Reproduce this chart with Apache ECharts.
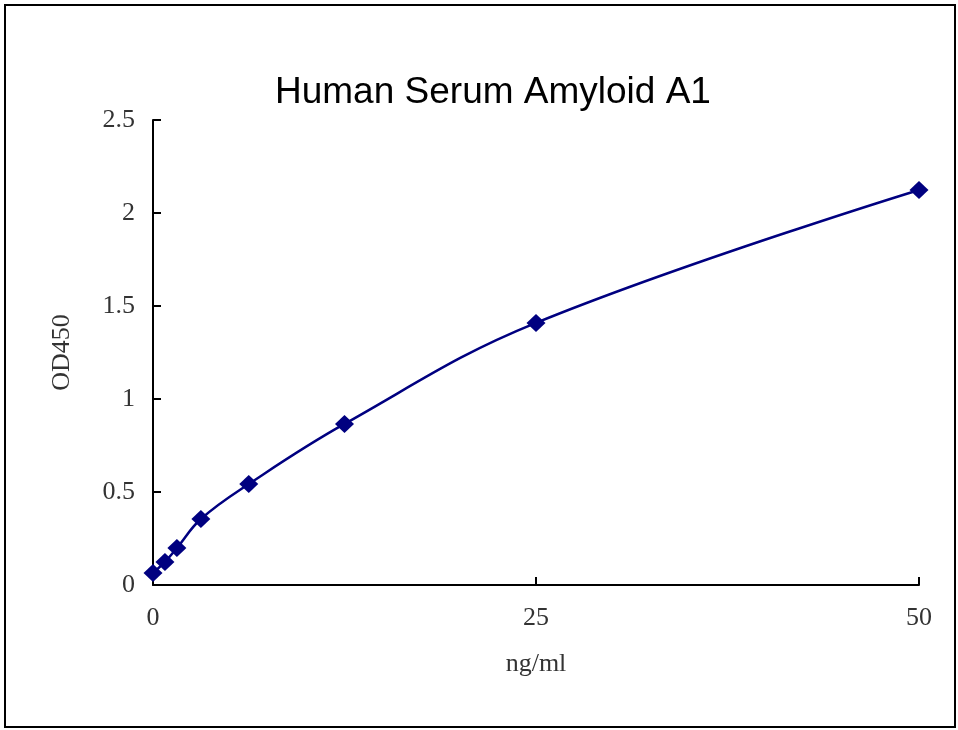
<!DOCTYPE html>
<html><head><meta charset="utf-8">
<script src="https://cdn.jsdelivr.net/npm/echarts@6/dist/echarts.min.js"></script>
<style>html,body{margin:0;padding:0;background:#fff}#c{width:958px;height:730px}</style>
</head><body><div id="c"></div>
<script>
var concentrations = [0, 0.78, 1.56, 3.125, 6.25, 12.5, 25, 50];
var odValues = [0.065, 0.124, 0.199, 0.355, 0.543, 0.866, 1.409, 2.124];
var titleText = 'Human Serum Amyloid A1';
var xName = 'ng/ml';
var yName = 'OD450';

var points = concentrations.map(function (c, i) { return [c, odValues[i]]; });
var chart = echarts.init(document.getElementById('c'));
chart.setOption({
  backgroundColor: '#fff',
  animation: false,
  title: {
    text: titleText, left: 270, top: 69,
    textStyle: { fontFamily: 'Liberation Sans', fontSize: 37, fontWeight: 'normal', color: '#000' }
  },
  graphic: [{
    type: 'rect', shape: { x: 5, y: 5, width: 950, height: 722 },
    style: { fill: 'none', stroke: '#000', lineWidth: 2 }, silent: true
  }],
  grid: { left: 153, right: 39, top: 120, bottom: 145 },
  xAxis: {
    type: 'value', min: 0, max: 50, interval: 25,
    name: xName, nameLocation: 'middle', nameGap: 66,
    nameTextStyle: { fontFamily: 'Liberation Serif', fontSize: 26, color: '#333' },
    axisLine: { lineStyle: { color: '#000', width: 2 } },
    axisTick: { inside: true, length: 8, lineStyle: { color: '#000', width: 2 } },
    axisLabel: { fontFamily: 'Liberation Serif', fontSize: 26, color: '#333', margin: 20 },
    splitLine: { show: false }
  },
  yAxis: {
    type: 'value', min: 0, max: 2.5, interval: 0.5,
    name: yName, nameLocation: 'middle', nameGap: 78,
    nameTextStyle: { fontFamily: 'Liberation Serif', fontSize: 26, color: '#333' },
    axisLine: { show: true, lineStyle: { color: '#000', width: 2 } },
    axisTick: { show: true, inside: true, length: 8, lineStyle: { color: '#000', width: 2 } },
    axisLabel: { fontFamily: 'Liberation Serif', fontSize: 26, color: '#333', margin: 18 },
    splitLine: { show: false }
  },
  series: [{
    type: 'line', data: points, smooth: 0.4,
    symbol: 'diamond', symbolSize: [19, 18],
    lineStyle: { color: '#000080', width: 2.5 },
    itemStyle: { color: '#000080' }
  }]
});
</script></body></html>
